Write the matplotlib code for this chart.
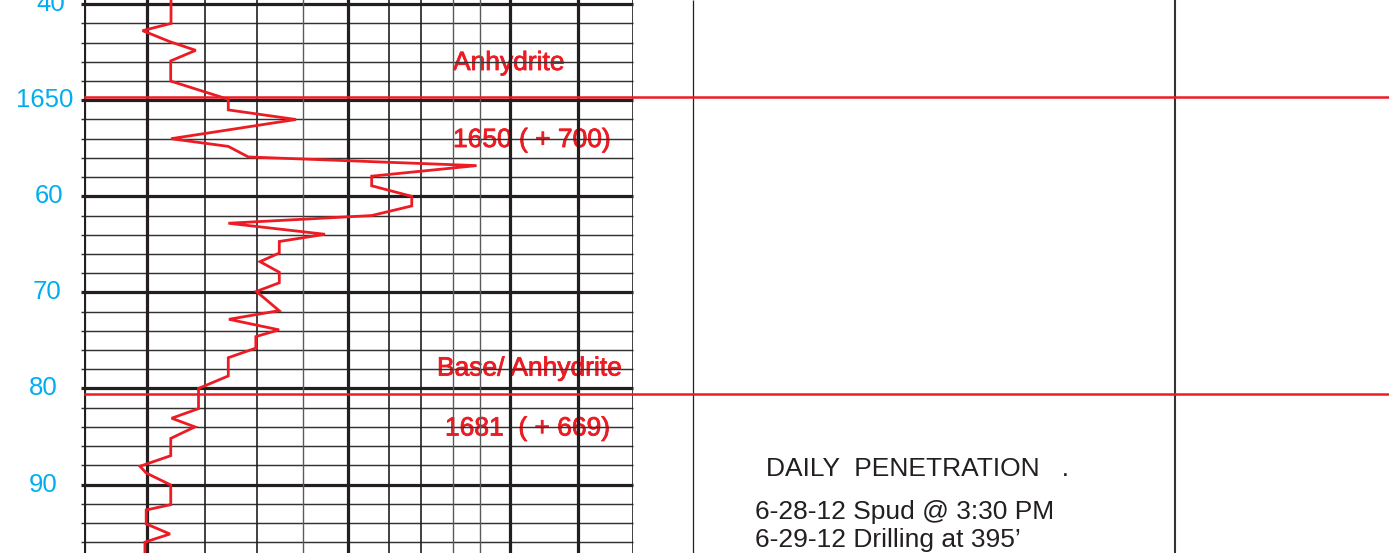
import matplotlib
matplotlib.use('Agg')
import matplotlib.pyplot as plt
import matplotlib.patheffects as pe

plt.rcParams['font.family'] = ['Liberation Sans', 'DejaVu Sans']

# ---------------- data ----------------
depth_ft = [1639.0, 1642.0, 1642.75, 1643.9, 1644.8, 1645.9, 1648.0, 1649.9, 1651.0,
            1652.0, 1654.0, 1654.8, 1655.9, 1656.8, 1657.9, 1658.9, 1660.0, 1661.0,
            1662.0, 1662.8, 1663.95, 1664.7, 1665.9, 1666.8, 1667.9, 1669.0, 1669.9,
            1671.9, 1672.8, 1673.9, 1674.6, 1675.8, 1676.8, 1678.7, 1680.0, 1682.1,
            1683.1, 1684.0, 1685.2, 1687.0, 1688.1, 1688.8, 1690.05, 1692.1, 1692.65,
            1694.1, 1695.15, 1696.0, 1698.0]
drill_rate = [15.85, 15.85, 10.67, 15.65, 20.35, 15.79, 15.79, 26.28, 26.28,
              38.6, 15.85, 26.28, 29.93, 71.5, 52.4, 52.4, 59.7, 59.7,
              52.4, 26.3, 43.9, 35.57, 35.57, 32.06, 35.57, 35.57, 31.4,
              35.54, 26.4, 35.54, 31.3, 31.3, 26.28, 26.28, 20.86, 20.86,
              15.96, 20.2, 15.8, 15.8, 10.2, 11.33, 15.8, 15.8, 11.33,
              11.33, 15.66, 11.1, 11.1]

depth_ticks = [1640, 1650, 1660, 1670, 1680, 1690]
depth_tick_labels = ["40", "1650", "60", "70", "80", "90"]

top_names = ["Anhydrite", "Base/ Anhydrite"]
top_depths = [1649.66, 1680.61]
top_datum = ["1650 ( + 700)", "1681  ( + 669)"]

penetration_title = "DAILY  PENETRATION   ."
penetration_lines = ["6-28-12 Spud @ 3:30 PM", "6-29-12 Drilling at 395\u2019"]

# ---------------- layout / style ----------------
W, H = 1389, 553
RED = '#ED1C24'
BLUE = '#00AEEF'
INK = '#231F20'
track_left, track_right = 84, 633
depth_top, depth_bottom = 1639.56, 1697.13

# vertical grid positions within the track (0-100) and style
vgrid = [(0.0, 'thick'), (11.48, 'thick'), (22.04, 'med'), (31.51, 'med'),
         (39.89, 'gray'), (48.09, 'thick'), (55.56, 'med'), (61.38, 'med'),
         (67.21, 'gray'), (72.13, 'gray'), (77.6, 'thick'), (89.98, 'thick'),
         (100.0, 'med')]
vstyle = {'thick': dict(color='#231F20', lw=2.3),
          'med': dict(color='#231F20', lw=1.2),
          'gray': dict(color='#5a5a5a', lw=1.0)}
label_centers_px = [51, 45, 49, 47.5, 43, 43]

fig = plt.figure(figsize=(W / 100, H / 100), dpi=100)
fig.patch.set_facecolor('white')

# pixel overlay axes for layout elements
px = fig.add_axes([0, 0, 1, 1], zorder=1)
px.set_xlim(0, W)
px.set_ylim(H, 0)
px.set_axis_off()
px.patch.set_alpha(0)

# track axes
ax = fig.add_axes([track_left / W, 0, (track_right - track_left) / W, 1], zorder=2)
ax.set_xlim(0, 100)
ax.set_ylim(depth_bottom, depth_top)
ax.set_axis_off()
ax.patch.set_alpha(0)

tw = track_right - track_left
tick_frac = -3.0 / tw

# horizontal grid: every 2 ft, thick every 10 ft
for d in range(1640, 1698, 2):
    thick = (d % 10 == 0)
    ax.plot([tick_frac, 1], [d, d], transform=ax.get_yaxis_transform(),
            color='#231F20' if thick else '#333333', lw=2.3 if thick else 1.05,
            clip_on=False, zorder=1, solid_capstyle='butt')

for pos, st in vgrid:
    ax.axvline(pos, ymin=0, ymax=1, zorder=1, **vstyle[st])

# depth labels
for d, lab, cx in zip(depth_ticks, depth_tick_labels, label_centers_px):
    ax.text((cx - track_left) / tw, d, lab, transform=ax.get_yaxis_transform(),
            ha='center', va='center', color=BLUE, fontsize=18.5)

# drilling time curve
ax.plot(drill_rate, depth_ft, color=RED, lw=2.0, zorder=4, solid_joinstyle='miter')

# formation top lines
for d in top_depths:
    ax.axhline(d, xmin=1.0 / tw, xmax=(W - track_left) / tw, color=RED, lw=1.8,
               clip_on=False, zorder=3)

# right-hand track lines
px.vlines([693], 0, H, color=INK, lw=0.9)
px.vlines([1175], 0, H, color='#333333', lw=1.5)

# formation labels
stroke = [pe.withStroke(linewidth=0.6, foreground=RED)]
text_pos = [((453, 70), (453, 147)), ((437, 375.5), (445, 435.5))]
for name, datum, (p1, p2) in zip(top_names, top_datum, text_pos):
    px.text(p1[0], p1[1], name, color=RED, fontsize=19, ha='left', va='baseline',
            path_effects=stroke, zorder=5)
    px.text(p2[0], p2[1], datum, color=RED, fontsize=19, ha='left', va='baseline',
            path_effects=stroke, zorder=5)

# daily penetration notes
px.text(766, 475.5, penetration_title, color=INK, fontsize=19, ha='left', va='baseline')
for i, line in enumerate(penetration_lines):
    px.text(755, 519.3 + 27.4 * i, line, color=INK, fontsize=19, ha='left', va='baseline')

fig.savefig('out.png', dpi=100, facecolor='white')
